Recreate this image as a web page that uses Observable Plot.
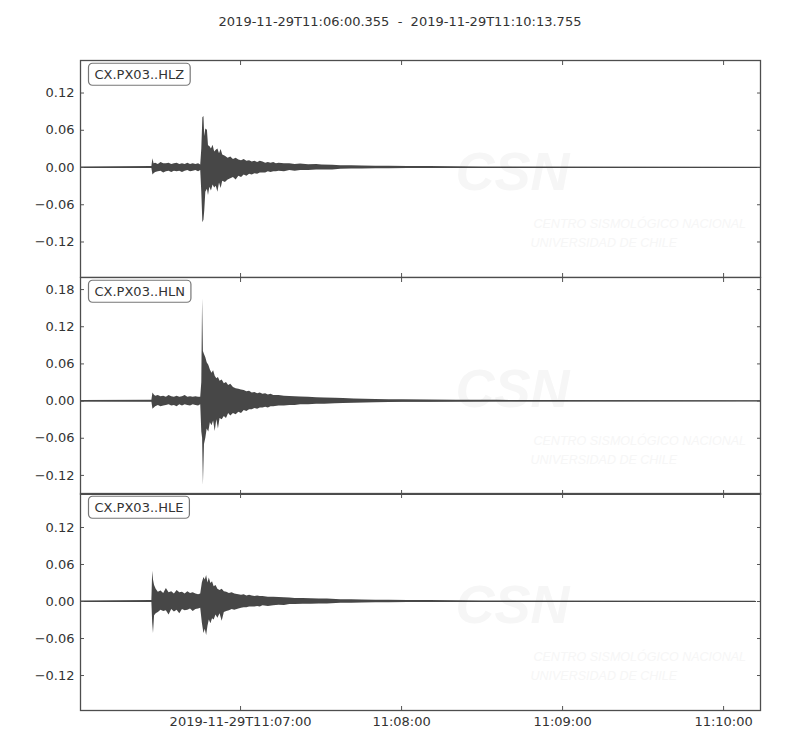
<!DOCTYPE html>
<html>
<head>
<meta charset="utf-8">
<script src="https://cdn.jsdelivr.net/npm/d3@7"></script>
<script src="https://cdn.jsdelivr.net/npm/@observablehq/plot@0.6"></script>
<style>
  body { margin: 0; background: #fff; font-family: "DejaVu Sans", sans-serif; }
  #chart { position: relative; width: 800px; height: 750px; }
  #title { position: absolute; top: 14px; left: 0; width: 800px; text-align: center; font-size: 13px; color: #333; }
  .panel { position: absolute; left: 0; }
</style>
</head>
<body>
<div id="chart"><div id="title"></div></div>
<script>
// trace window
const startTime = "2019-11-29T11:06:00.355";
const endTime = "2019-11-29T11:10:13.755";

// x ticks and their labels
const xTickTimes = ["2019-11-29T11:07:00", "2019-11-29T11:08:00", "2019-11-29T11:09:00", "2019-11-29T11:10:00"];
const xTickLabels = ["2019-11-29T11:07:00", "11:08:00", "11:09:00", "11:10:00"];

const stations = ["CX.PX03..HLZ", "CX.PX03..HLN", "CX.PX03..HLE"];
const yTicksZ = [-0.12, -0.06, 0, 0.06, 0.12];
const yTicksN = [-0.12, -0.06, 0, 0.06, 0.12, 0.18];
const yTicksE = [-0.12, -0.06, 0, 0.06, 0.12];

// envelope of each trace (seconds after start, max, min)
const hlzT  = [0, 26.6, 27.0, 27.4, 28, 29, 30, 31, 32, 33, 34, 35, 36, 37, 38, 39, 40, 41, 42, 43, 44, 44.8,
  45.2, 45.6, 46.0, 46.3, 46.7, 47.3, 47.7, 48.2, 48.8, 49.4, 50.0, 50.6, 51.2, 51.8, 52.4, 53, 54, 55, 56, 57, 58, 59,
  60, 61, 62, 63, 64, 65, 66, 67, 68, 69, 70, 71, 72, 73, 74,
  76, 78, 80, 82, 85, 88, 90, 94, 97, 101, 105, 110, 115, 122, 130, 140, 150, 253.4];
const hlzHi = [0.001, 0.0015, 0.014, 0.006, 0.007, 0.005, 0.008, 0.006, 0.006, 0.007, 0.005, 0.006, 0.007, 0.005, 0.006, 0.005, 0.007, 0.005, 0.006, 0.005, 0.006, 0.004,
  0.030, 0.080, 0.082, 0.050, 0.062, 0.060, 0.035, 0.034, 0.030, 0.036, 0.025, 0.028, 0.030, 0.022, 0.029, 0.020, 0.018, 0.015, 0.017, 0.013, 0.015, 0.012,
  0.011, 0.013, 0.010, 0.011, 0.009, 0.010, 0.008, 0.010, 0.009, 0.007, 0.008, 0.007, 0.008, 0.006, 0.007,
  0.006, 0.006, 0.005, 0.0055, 0.0045, 0.005, 0.004, 0.0035, 0.003, 0.003, 0.0025, 0.0022, 0.002, 0.0018, 0.0015, 0.0012, 0.001, 0.0005];
const hlzLo = [-0.001, -0.0015, -0.012, -0.010, -0.008, -0.007, -0.006, -0.009, -0.007, -0.006, -0.008, -0.006, -0.007, -0.006, -0.008, -0.006, -0.005, -0.007, -0.006, -0.005, -0.007, -0.005,
  -0.040, -0.089, -0.085, -0.070, -0.040, -0.035, -0.045, -0.032, -0.038, -0.028, -0.033, -0.030, -0.040, -0.025, -0.034, -0.022, -0.024, -0.020, -0.018, -0.016, -0.020, -0.014,
  -0.016, -0.012, -0.014, -0.011, -0.012, -0.010, -0.011, -0.009, -0.009, -0.009, -0.007, -0.008, -0.007, -0.007, -0.006,
  -0.007, -0.005, -0.006, -0.005, -0.005, -0.004, -0.004, -0.004, -0.003, -0.0025, -0.0025, -0.002, -0.002, -0.0016, -0.0015, -0.0013, -0.001, -0.0005];

const hlnT  = [0, 26.6, 27.0, 27.5, 28, 29, 30, 31, 32, 33, 34, 35, 36, 37, 38, 39, 40, 41, 42, 43, 44, 44.8,
  45.2, 45.5, 45.8, 46.2, 46.7, 47.2, 47.8, 48.4, 49.0, 49.6, 50.2, 50.8, 51.4, 52.0, 52.8, 53.6, 54.4, 55.2, 56, 57, 58, 59,
  60, 61, 62, 63, 64, 65, 66, 67, 68, 69, 70, 71, 72, 74, 76, 78, 80, 82, 85, 88, 91, 95, 98, 102, 106, 110, 115, 120, 130, 140, 155, 170, 253.4];
const hlnHi = [0.001, 0.0015, 0.013, 0.010, 0.008, 0.009, 0.007, 0.008, 0.006, 0.009, 0.007, 0.006, 0.008, 0.006, 0.007, 0.009, 0.006, 0.007, 0.006, 0.007, 0.006, 0.006,
  0.030, 0.165, 0.080, 0.075, 0.070, 0.062, 0.058, 0.050, 0.045, 0.049, 0.040, 0.036, 0.038, 0.032, 0.034, 0.028, 0.030, 0.025, 0.027, 0.022, 0.020, 0.019,
  0.018, 0.017, 0.015, 0.016, 0.013, 0.014, 0.012, 0.013, 0.011, 0.012, 0.010, 0.011, 0.009, 0.009, 0.008, 0.0075, 0.007, 0.0065, 0.006, 0.0055, 0.005, 0.0045,
  0.004, 0.0035, 0.003, 0.0027, 0.0022, 0.002, 0.0017, 0.0014, 0.0012, 0.001, 0.0005];
const hlnLo = [-0.001, -0.0015, -0.013, -0.011, -0.009, -0.007, -0.009, -0.008, -0.007, -0.006, -0.008, -0.007, -0.009, -0.006, -0.008, -0.006, -0.007, -0.008, -0.006, -0.007, -0.008, -0.006,
  -0.050, -0.060, -0.136, -0.070, -0.060, -0.045, -0.050, -0.035, -0.040, -0.032, -0.049, -0.030, -0.045, -0.028, -0.030, -0.025, -0.028, -0.020, -0.024, -0.020, -0.022, -0.018,
  -0.020, -0.015, -0.017, -0.014, -0.014, -0.012, -0.013, -0.011, -0.011, -0.010, -0.011, -0.009, -0.009, -0.008, -0.008, -0.007, -0.007, -0.006, -0.006, -0.005, -0.005, -0.0045,
  -0.004, -0.0035, -0.003, -0.0025, -0.0022, -0.002, -0.0017, -0.0014, -0.0012, -0.001, -0.0005];

const hleT  = [0, 26.6, 26.9, 27.2, 27.6, 28.2, 29, 30, 31, 32, 33, 34, 35, 36, 37, 38, 39, 40, 41, 42, 43, 44, 44.8,
  45.4, 46.0, 46.5, 47.0, 47.5, 48.0, 48.6, 49.2, 49.8, 50.5, 51.2, 52.0, 52.8, 53.6, 54.5, 55.5, 56.5, 57.5,
  59, 60, 61, 62, 63, 64, 65, 66, 67, 68, 70, 72, 74, 76, 78, 80, 83, 86, 89, 92, 97, 101, 105, 110, 115, 122, 130, 140, 150, 251.6];
const hleHi = [0.001, 0.0015, 0.049, 0.035, 0.026, 0.020, 0.015, 0.017, 0.013, 0.021, 0.014, 0.016, 0.012, 0.018, 0.014, 0.015, 0.012, 0.016, 0.013, 0.014, 0.012, 0.011, 0.012,
  0.030, 0.039, 0.035, 0.042, 0.030, 0.038, 0.029, 0.032, 0.024, 0.026, 0.020, 0.018, 0.020, 0.016, 0.015, 0.013, 0.014, 0.012,
  0.011, 0.010, 0.011, 0.009, 0.010, 0.009, 0.008, 0.009, 0.008, 0.008, 0.007, 0.007, 0.0065, 0.006, 0.0055, 0.005, 0.005, 0.0045, 0.0042, 0.004,
  0.003, 0.003, 0.0025, 0.0022, 0.002, 0.0018, 0.0015, 0.0012, 0.001, 0.0005];
const hleLo = [-0.001, -0.0015, -0.035, -0.052, -0.023, -0.020, -0.018, -0.014, -0.016, -0.015, -0.022, -0.013, -0.017, -0.014, -0.020, -0.013, -0.015, -0.014, -0.012, -0.016, -0.013, -0.012, -0.011,
  -0.035, -0.052, -0.045, -0.055, -0.040, -0.030, -0.036, -0.028, -0.030, -0.022, -0.027, -0.020, -0.032, -0.018, -0.016, -0.015, -0.013, -0.014,
  -0.012, -0.011, -0.010, -0.010, -0.009, -0.009, -0.009, -0.008, -0.009, -0.007, -0.008, -0.007, -0.006, -0.0065, -0.005, -0.005, -0.0045, -0.0045, -0.004, -0.004,
  -0.003, -0.0028, -0.0025, -0.0022, -0.002, -0.0017, -0.0015, -0.0012, -0.001, -0.0005];

const t0 = new Date(startTime + "Z");
const t1 = new Date(endTime + "Z");
const at = s => new Date(t0.getTime() + s * 1000);
const xTicks = xTickTimes.map(d => new Date(d + "Z"));
const xLabel = new Map(xTicks.map((d, i) => [d.getTime(), xTickLabels[i]]));
const noLabel = () => "";

d3.select("#title").text(startTime + "\u00a0\u00a0-\u00a0\u00a0" + endTime);

const traceColor = "#474747";
const tickColor = "#555";
const markColor = "#f6f6f6";

function panel(name, t, hi, lo, yDomain, yTicks, top, showX) {
  const rows = t.map((s, i) => ({time: at(s), hi: hi[i], lo: lo[i]}));
  const flat = [{time: at(t[0]), v: 0}, {time: at(t[t.length - 1]), v: 0}];

  const chart = Plot.plot({
    width: 800,
    height: showX ? 259 : 219,
    marginLeft: 80,
    marginRight: 40,
    marginTop: 1,
    marginBottom: showX ? 41 : 1,
    style: {fontFamily: "DejaVu Sans", fontSize: "13px", color: "#333", background: "transparent"},
    x: {type: "utc", domain: [t0, t1], label: null},
    y: {domain: yDomain, label: null},
    marks: [
      // faint CSN watermark
      Plot.text(["CSN"], {frameAnchor: "top-left", dx: 375, dy: 112, fontSize: 54, fontWeight: "bold", fontStyle: "italic",
        fontFamily: "Liberation Sans", fill: markColor, textAnchor: "start", lineAnchor: "middle"}),
      Plot.text(["CENTRO SISMOLÓGICO NACIONAL"], {frameAnchor: "top-left", dx: 453, dy: 163, fontSize: 12.5, fontStyle: "italic",
        fontFamily: "Liberation Sans", fill: markColor, textAnchor: "start", lineAnchor: "middle"}),
      Plot.text(["UNIVERSIDAD DE CHILE"], {frameAnchor: "top-left", dx: 450, dy: 182, fontSize: 12.5, fontStyle: "italic",
        fontFamily: "Liberation Sans", fill: markColor, textAnchor: "start", lineAnchor: "middle"}),
      Plot.lineY(flat, {x: "time", y: "v", stroke: traceColor, strokeWidth: 1}),
      Plot.areaY(rows, {x: "time", y1: "lo", y2: "hi", fill: traceColor}),
      Plot.axisY({ticks: yTicks, tickFormat: d3.format(".2f"), tickSize: -4, tickPadding: 10, stroke: tickColor, label: null}),
      Plot.axisY({anchor: "right", ticks: yTicks, tickFormat: noLabel, tickSize: -4, stroke: tickColor, label: null}),
      Plot.axisX({anchor: "top", ticks: xTicks, tickFormat: noLabel, tickSize: -4, stroke: tickColor, label: null}),
      Plot.axisX({anchor: "bottom", ticks: xTicks, tickFormat: showX ? (d => xLabel.get(d.getTime())) : noLabel,
        tickSize: -4, tickPadding: 10, stroke: tickColor, label: null}),
      Plot.frame({stroke: "#4d4d4d", strokeWidth: 1.3}),
      Plot.text([name], {frameAnchor: "top-left", dx: 14, dy: 9, fontSize: 13, fill: "#333",
        textAnchor: "start", lineAnchor: "top"})
    ]
  });

  chart.classList.add("panel");
  chart.style.top = top + "px";
  d3.select("#chart").append(() => chart);

  // rounded box behind the station name
  d3.select(chart).selectAll("text").filter(function() { return this.textContent === name; }).each(function() {
    const b = this.getBBox();
    const r = document.createElementNS("http://www.w3.org/2000/svg", "rect");
    r.setAttribute("x", b.x - 6);
    r.setAttribute("y", b.y - 3.5);
    r.setAttribute("width", b.width + 12);
    r.setAttribute("height", b.height + 7);
    r.setAttribute("rx", 4);
    r.setAttribute("fill", "#fff");
    r.setAttribute("stroke", "#777");
    r.setAttribute("stroke-width", 1.2);
    if (this.getAttribute("transform")) r.setAttribute("transform", this.getAttribute("transform"));
    this.parentNode.insertBefore(r, this);
  });
}

panel(stations[0], hlzT, hlzHi, hlzLo, [-0.1772, 0.1724], yTicksZ, 59, false);
panel(stations[1], hlnT, hlnHi, hlnLo, [-0.1508, 0.1995], yTicksN, 276, false);
panel(stations[2], hleT, hleHi, hleLo, [-0.1767, 0.1751], yTicksE, 492, true);
</script>
</body>
</html>
